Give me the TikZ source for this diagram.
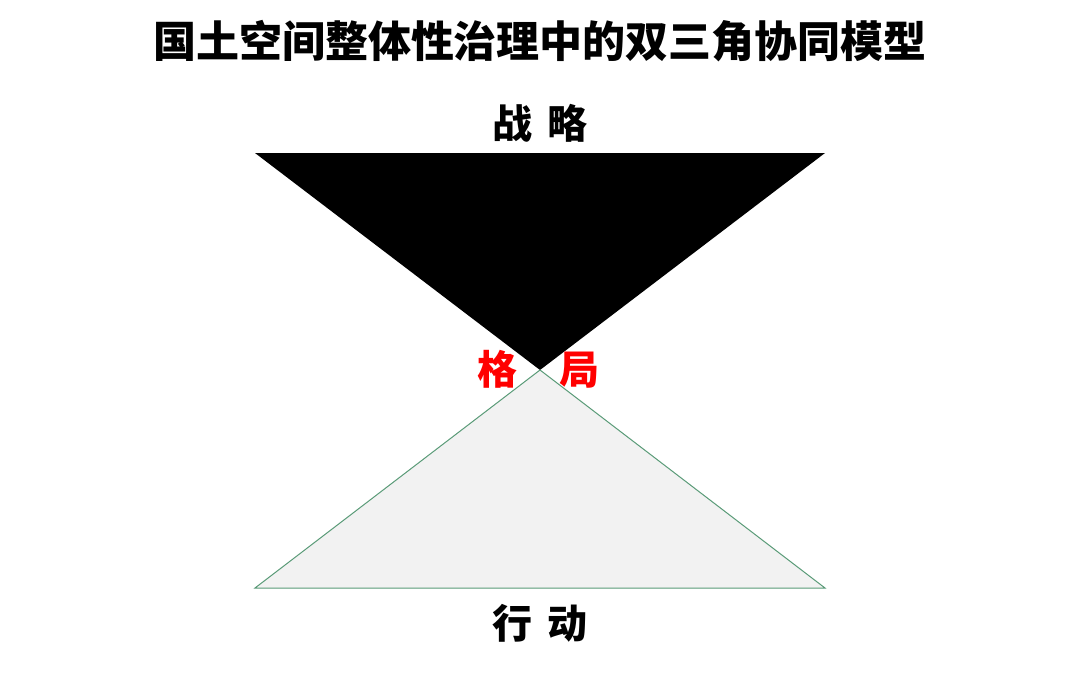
\documentclass[tikz,border=0pt]{standalone}
\usepackage{fontspec}
\newfontfamily\cjk{Noto Sans CJK SC}
\definecolor{edgegreen}{RGB}{90,155,120}
\definecolor{lightfill}{RGB}{242,242,242}
\begin{document}
\begin{tikzpicture}[x=1pt,y=-1pt,
  lbl/.style={inner sep=0pt,font=\cjk\bfseries\fontsize{40}{48}\selectfont},
  ttl/.style={inner sep=0pt,font=\cjk\bfseries\fontsize{43}{51}\selectfont}]
\useasboundingbox[fill=white] (0,0) rectangle (1080,675);
\node[ttl] (title) at (540,41) {国土空间整体性治理中的双三角协同模型};
\coordinate (tl) at (255,153);
\coordinate (tr) at (825,153);
\coordinate (apex) at (540,370);
\coordinate (bl) at (255,588);
\coordinate (br) at (825,588);
\fill[black] (tl) -- (tr) -- (apex) -- cycle;
\draw[edgegreen,fill=lightfill,line width=1pt] (apex) -- (br) -- (bl) -- cycle;
\node[lbl] (top) at (540,123) {战\hspace{0.38em}略};
\node[lbl] (bot) at (540,623) {行\hspace{0.38em}动};
\node[lbl,text=red] (mid) at (538,369) {格\hspace{1.05em}局};
\end{tikzpicture}
\end{document}
